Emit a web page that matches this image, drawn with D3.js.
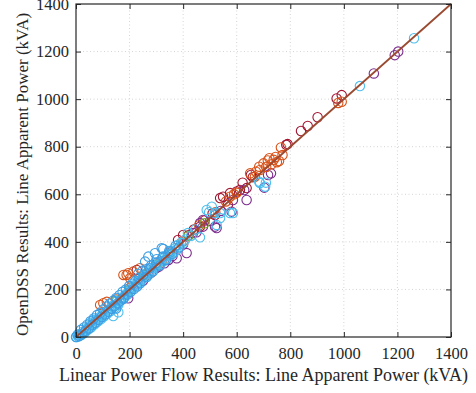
<!DOCTYPE html>
<html>
<head>
<meta charset="utf-8">
<script src="https://cdn.jsdelivr.net/npm/d3@7"></script>
<style>
  html, body { margin: 0; padding: 0; background: #fff; }
  svg { display: block; }
  svg text { font-family: "Liberation Serif", "Times New Roman", serif !important; }
</style>
</head>
<body>
<div id="chart"></div>
<script>
const xTicks = [0, 200, 400, 600, 800, 1000, 1200, 1400];
const yTicks = [0, 200, 400, 600, 800, 1000, 1200, 1400];

// [linear power flow, opendss] pairs per series, kVA
const darkRed = [[227,282],[300,305],[350,355],[381,408],[400,429],[420,428],[440,452],[463,464],[480,490],[510,520],[519,513],[538,584],[549,590],[567,555],[575,605],[600,612],[612,618],[622,649],[637,626],[653,681],[660,672],[785,808],[790,811],[840,866],[865,887],[902,924],[973,1003],[992,1017]];
const purple = [[195,163],[230,225],[250,236],[270,262],[280,270],[300,290],[310,296],[330,310],[345,324],[360,340],[376,331],[400,390],[413,353],[437,437],[450,440],[463,479],[474,464],[474,492],[500,488],[519,464],[525,458],[540,530],[581,527],[586,576],[628,618],[637,576],[703,628],[717,681],[728,688],[1112,1108],[1190,1185],[1203,1200]];
const orange = [[90,135],[102,142],[115,148],[150,158],[177,261],[189,261],[195,268],[200,205],[202,247],[214,275],[239,289],[260,262],[320,318],[400,402],[460,470],[520,525],[560,570],[575,590],[590,600],[600,606],[650,688],[668,674],[672,695],[684,716],[687,702],[700,730],[710,715],[716,742],[722,752],[730,726],[738,745],[745,757],[750,735],[758,740],[765,797],[771,765],[979,984],[992,989]];
const green = [[150,152],[200,198],[258,261],[300,302],[350,348],[420,425],[480,478]];
const cyan = [[2,0],[8,2],[14,10],[20,8],[26,22],[32,18],[38,34],[44,30],[50,46],[52,58],[56,40],[62,56],[65,71],[68,52],[74,70],[80,64],[86,82],[92,74],[98,94],[104,86],[110,104],[116,98],[122,116],[128,108],[134,130],[139,88],[140,128],[146,124],[152,150],[158,104],[158,136],[164,152],[170,166],[176,160],[182,174],[188,182],[194,186],[200,196],[206,200],[212,208],[218,218],[224,216],[230,232],[236,228],[242,240],[248,246],[254,256],[260,252],[266,270],[272,264],[278,280],[284,276],[290,290],[296,296],[302,300],[308,312],[314,306],[320,326],[326,318],[332,338],[338,330],[344,348],[350,342],[356,362],[362,354],[368,372],[374,364],[380,386],[386,378],[392,396],[400,394],[408,410],[418,437],[430,426],[446,452],[463,419],[488,534],[497,525],[507,548],[519,521],[525,471],[538,500],[538,521],[575,521],[586,521],[684,653],[687,647],[706,632],[709,649],[1060,1055],[1262,1256]];
const blue = [[0,0],[6,10],[12,4],[18,30],[24,14],[30,40],[36,26],[42,52],[48,36],[54,66],[60,50],[66,78],[72,60],[78,92],[84,72],[90,100],[96,84],[102,116],[108,94],[114,128],[120,106],[126,140],[132,118],[138,152],[144,130],[150,120],[150,164],[156,142],[162,176],[168,154],[174,190],[177,162],[180,166],[186,200],[192,178],[198,214],[204,190],[210,224],[216,202],[222,236],[228,212],[232,265],[234,248],[240,226],[246,276],[252,262],[258,317],[264,286],[264,252],[270,338],[276,290],[280,300],[288,276],[295,352],[300,312],[301,327],[312,300],[320,373],[324,338],[326,370],[336,324],[348,362],[360,350],[372,384],[384,376]];

const series = [
  { name: 'darkRed', color: '#a2142f', data: darkRed },
  { name: 'purple', color: '#7e2f8e', data: purple },
  { name: 'orange', color: '#d95319', data: orange },
  { name: 'green', color: '#77ac30', data: green },
  { name: 'cyan', color: '#4dbeee', data: cyan },
  { name: 'blue', color: '#3d9de3', data: blue }
];

const W = 476, H = 393;
const margin = { left: 76, top: 4, right: 25, bottom: 56 };
const iw = W - margin.left - margin.right;
const ih = H - margin.top - margin.bottom;
const ink = '#262626';
const serif = '"Liberation Serif", "Times New Roman", serif';

const svg = d3.select('#chart').append('svg')
  .attr('width', W).attr('height', H)
  .attr('font-family', serif);

const x = d3.scaleLinear().domain([0, 1400]).range([margin.left, margin.left + iw]);
const y = d3.scaleLinear().domain([0, 1400]).range([margin.top + ih, margin.top]);

// grid
const grid = svg.append('g').attr('stroke', '#d4d4d4').attr('stroke-dasharray', '1,2.5').attr('stroke-width', 1);
grid.selectAll('.gx').data(xTicks.slice(1, -1)).enter().append('line')
  .attr('x1', d => x(d)).attr('x2', d => x(d)).attr('y1', y(0)).attr('y2', y(1400));
grid.selectAll('.gy').data(yTicks.slice(1, -1)).enter().append('line')
  .attr('y1', d => y(d)).attr('y2', d => y(d)).attr('x1', x(0)).attr('x2', x(1400));

// scatter
series.forEach(s => {
  svg.append('g').selectAll('circle')
    .data(s.data)
    .enter().append('circle')
    .attr('cx', d => x(d[0]))
    .attr('cy', d => y(d[1]))
    .attr('r', 4.7)
    .attr('fill', 'none')
    .attr('stroke', s.color)
    .attr('stroke-width', 1.1);
});

// y = x reference line
svg.append('line')
  .attr('x1', x(0)).attr('y1', y(0)).attr('x2', x(1400)).attr('y2', y(1400))
  .attr('stroke', '#9a4a30').attr('stroke-width', 1.8);

// axes, ticks inward, box
const tickLen = 5;
const fixAxis = g => {
  g.attr('font-family', serif).attr('font-size', 16.5);
  g.select('.domain').remove();
};
svg.append('g').attr('transform', `translate(0,${y(0)})`)
  .call(d3.axisBottom(x).tickValues(xTicks).tickSize(-tickLen).tickPadding(10).tickFormat(d3.format('d')))
  .call(fixAxis);
svg.append('g').attr('transform', `translate(${x(0)},0)`)
  .call(d3.axisLeft(y).tickValues(yTicks).tickSize(-tickLen).tickPadding(7).tickFormat(d3.format('d')))
  .call(fixAxis);
svg.append('g').attr('transform', `translate(0,${y(1400)})`)
  .call(d3.axisTop(x).tickValues(xTicks).tickSize(-tickLen).tickFormat(''))
  .call(fixAxis);
svg.append('g').attr('transform', `translate(${x(1400)},0)`)
  .call(d3.axisRight(y).tickValues(yTicks).tickSize(-tickLen).tickFormat(''))
  .call(fixAxis);

svg.selectAll('.tick line').attr('stroke', ink);
svg.selectAll('.tick text').attr('fill', ink).style('font-family', serif).style('font-size', '16.5px');

svg.append('rect')
  .attr('x', x(0)).attr('y', y(1400)).attr('width', iw).attr('height', ih)
  .attr('fill', 'none').attr('stroke', ink).attr('stroke-width', 1.2);

// labels
svg.append('text')
  .attr('x', margin.left + iw / 2).attr('y', 381)
  .attr('text-anchor', 'middle').attr('fill', ink).style('font-size', '18px')
  .text('Linear Power Flow Results: Line Apparent Power (kVA)');
svg.append('text')
  .attr('transform', `translate(28,${margin.top + ih / 2 + 4}) rotate(-90)`)
  .attr('text-anchor', 'middle').attr('fill', ink).style('font-size', '17px')
  .text('OpenDSS Results: Line Apparent Power (kVA)');
svg.append('text')
  .attr('x', 239).attr('y', 405)
  .attr('text-anchor', 'middle').attr('fill', '#999').style('font-size', '16px')
  .text('(b)');
</script>
</body>
</html>
